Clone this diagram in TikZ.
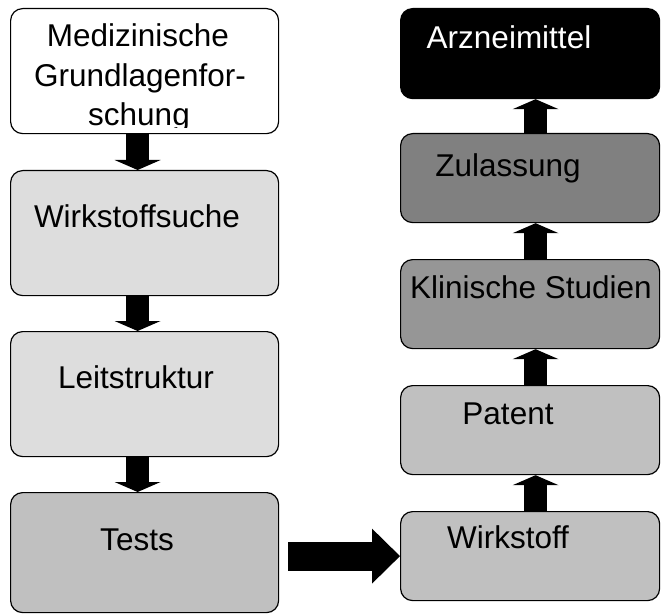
\documentclass[tikz,border=0pt]{standalone}
\usepackage{fontspec}
\setmainfont{Liberation Sans}
\usetikzlibrary{arrows.meta,calc}
\definecolor{gla}{HTML}{DDDDDD}
\definecolor{glb}{HTML}{C0C0C0}
\definecolor{gdk}{HTML}{808080}
\definecolor{gmd}{HTML}{969696}
\begin{document}
\begin{tikzpicture}[x=1bp,y=-1bp,
  box/.style={draw=black,line width=1.2bp,rounded corners=12bp,inner sep=0pt,anchor=north west},
  lbox/.style={box,minimum width=268bp},
  rbox/.style={box,minimum width=259bp,minimum height=89bp},
  lbl/.style={anchor=base,inner sep=0pt,font=\fontsize{31.5bp}{40bp}\selectfont},
  varrow/.style={line width=23bp,-{Triangle[width=46bp,length=10bp,line width=0pt]}},
  harrow/.style={line width=29bp,-{Triangle[width=55bp,length=28bp,line width=0pt]}}]
\useasboundingbox (0,0) rectangle (661,614);
% left column
\node[lbox,fill=white,minimum height=125bp] (l1) at (10,8) {};
\node[lbox,fill=gla,minimum height=125bp] (l2) at (10,170) {};
\node[lbox,fill=gla,minimum height=125bp] (l3) at (10,331) {};
\node[lbox,fill=glb,minimum height=120bp] (l4) at (10,492) {};
% right column
\node[rbox,fill=black,minimum height=90bp] (r1) at (400,8) {};
\node[rbox,fill=gdk] (r2) at (400,133) {};
\node[rbox,fill=gmd] (r3) at (400,259) {};
\node[rbox,fill=glb] (r4) at (400,385) {};
\node[rbox,fill=glb] (r5) at (400,511) {};
% labels
\node[lbl] (t1a) at (138,47) {Medizinische};
\node[lbl] (t1b) at (140,87) {Grundlagenfor-};
\begin{scope}
\clip (0,0) rectangle (661,128);
\node[lbl] (t1c) at (139,126) {schung};
\end{scope}
\node[lbl] (t2) at (137,227) {Wirkstoffsuche};
\node[lbl] (t3) at (136,388) {Leitstruktur};
\node[lbl] (t4) at (137,550) {Tests};
\node[lbl,text=white] (u1) at (509,49) {Arzneimittel};
\node[lbl] (u2) at (508,177) {Zulassung};
\node[lbl] (u3) at (531,298) {Klinische Studien};
\node[lbl] (u4) at (508,424) {Patent};
\node[lbl] (u5) at (508,548) {Wirkstoff};
% down arrows (left)
\draw[varrow] ($(l1.south)+(-7,0)$) -- ($(l2.north)+(-7,0)$);
\draw[varrow] ($(l2.south)+(-7,0)$) -- ($(l3.north)+(-7,0)$);
\draw[varrow] ($(l3.south)+(-7,0)$) -- ($(l4.north)+(-7,0)$);
% up arrows (right)
\draw[varrow] ($(r5.north)+(5.5,0)$) -- ($(r4.south)+(5.5,0)$);
\draw[varrow] ($(r4.north)+(5.5,0)$) -- ($(r3.south)+(5.5,0)$);
\draw[varrow] ($(r3.north)+(5.5,0)$) -- ($(r2.south)+(5.5,0)$);
\draw[varrow] ($(r2.north)+(5.5,0)$) -- ($(r1.south)+(5.5,0)$);
% horizontal arrow
\coordinate (hs) at ($(l4.east |- r5.west)+(9,0)$);
\draw[harrow] (hs) -- (r5.west);
\end{tikzpicture}
\end{document}
